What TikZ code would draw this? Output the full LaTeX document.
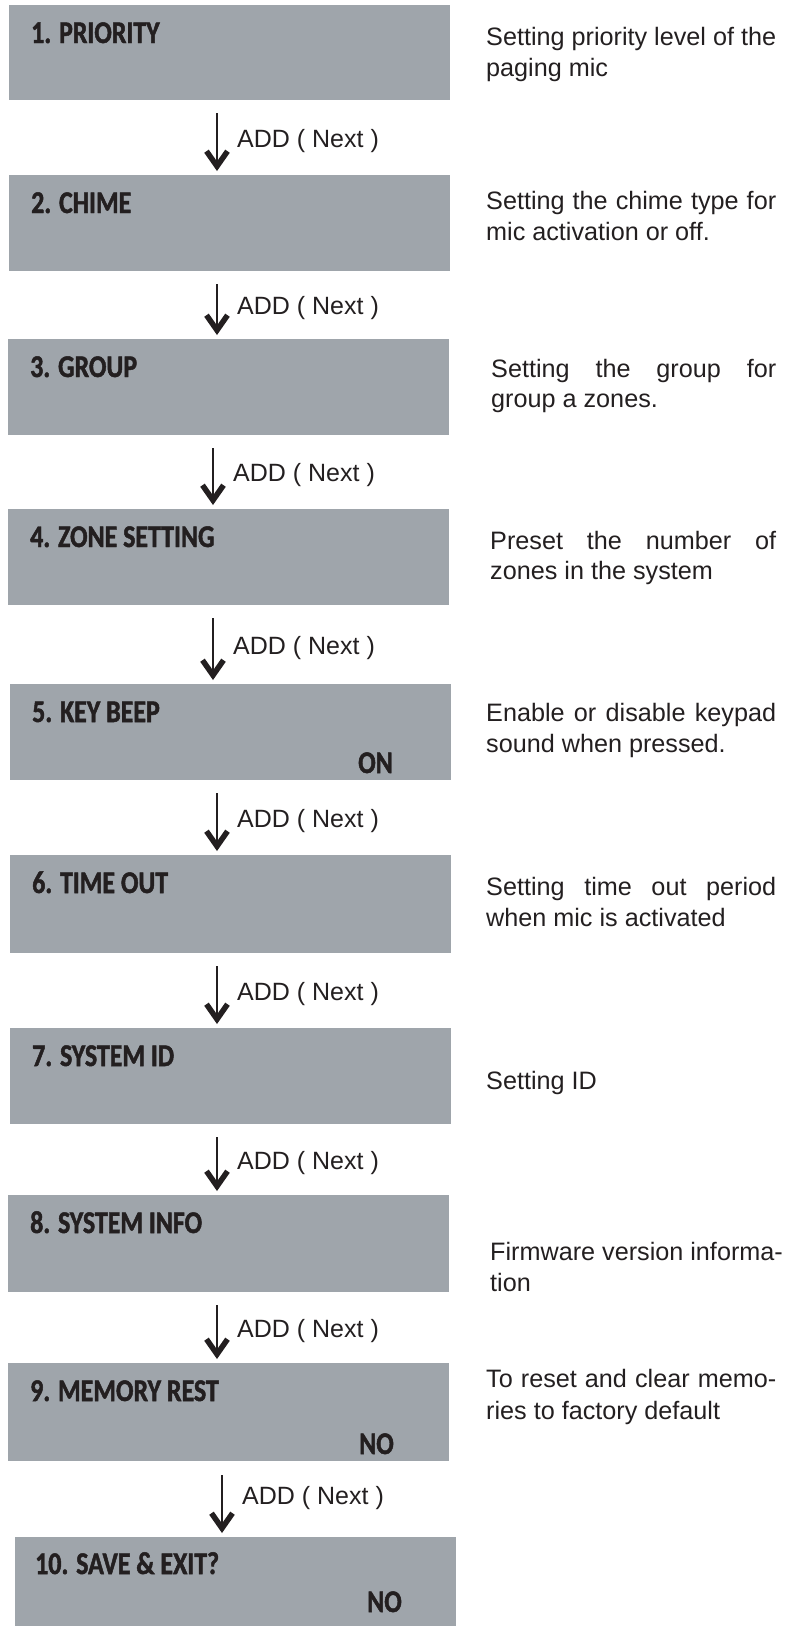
\documentclass[tikz,border=0pt]{standalone}
\usepackage{fontspec}
\usetikzlibrary{arrows.meta}
\newfontfamily\titlefont[FakeStretch=0.82,BoldFeatures={FakeBold=1.5}]{Carlito}
\newfontfamily\descfont{Liberation Sans}
\definecolor{boxgray}{RGB}{159,165,171}
\definecolor{ink}{RGB}{35,31,32}
\newcommand{\jl}[2]{\hbox to #1{#2}}
\tikzset{
  box/.style={fill=boxgray, draw=none, anchor=north west, inner sep=0pt, minimum width=441pt},
  title/.style={anchor=base west, inner sep=0pt, text=ink, font=\titlefont\bfseries\fontsize{31.6}{36}\selectfont},
  value/.style={anchor=base east, inner sep=0pt, text=ink, font=\titlefont\bfseries\fontsize{31.6}{36}\selectfont},
  desc/.style={anchor=base west, inner sep=0pt, text=ink, font=\descfont\fontsize{25.2}{31}\selectfont},
  lbl/.style={anchor=base west, inner sep=0pt, text=ink, font=\descfont\fontsize{25}{30}\selectfont},
  arr/.style={draw=ink, line width=1.4pt, -{Straight Barb[length=15pt,width=21pt,line width=5.5pt]}},
}
\begin{document}
\begin{tikzpicture}[x=1pt,y=-1pt]
\useasboundingbox (0,0) rectangle (786,1626);
% boxes
\node[box, minimum height=95pt] (b1) at (9,5) {};
\node[box, minimum height=96pt] (b2) at (9,175) {};
\node[box, minimum height=96pt] (b3) at (8,339) {};
\node[box, minimum height=96pt] (b4) at (8,509) {};
\node[box, minimum height=96pt] (b5) at (10,684) {};
\node[box, minimum height=98pt] (b6) at (10,855) {};
\node[box, minimum height=96pt] (b7) at (10,1028) {};
\node[box, minimum height=97pt] (b8) at (8,1195) {};
\node[box, minimum height=98pt] (b9) at (8,1363) {};
\node[box, minimum height=89pt] (b10) at (15,1537) {};
% titles
\node[title] (t1) at (31,43) {1. PRIORITY};
\node[title] (t2) at (31,213) {2. CHIME};
\node[title] (t3) at (30,377) {3. GROUP};
\node[title] (t4) at (30,547) {4. ZONE SETTING};
\node[title] (t5) at (32,722) {5. KEY BEEP};
\node[title] (t6) at (32,893) {6. TIME OUT};
\node[title] (t7) at (32,1066) {7. SYSTEM ID};
\node[title] (t8) at (30,1233) {8. SYSTEM INFO};
\node[title] (t9) at (30,1401) {9. MEMORY REST};
\node[title] (t10) at (35,1574) {10. SAVE \& EXIT?};
% values
\node[value] (v5) at (393,773) {ON};
\node[value] (v9) at (394,1454) {NO};
\node[value] (v10) at (402,1612) {NO};
% arrows
\coordinate (s1) at (217,113);  \coordinate (e1) at (217,171);
\coordinate (s2) at (217,284);  \coordinate (e2) at (217,335);
\coordinate (s3) at (213,448);  \coordinate (e3) at (213,505);
\coordinate (s4) at (213,618);  \coordinate (e4) at (213,680);
\coordinate (s5) at (217,793);  \coordinate (e5) at (217,851);
\coordinate (s6) at (217,966);  \coordinate (e6) at (217,1024);
\coordinate (s7) at (217,1137); \coordinate (e7) at (217,1191);
\coordinate (s8) at (217,1305); \coordinate (e8) at (217,1359);
\coordinate (s9) at (222,1475); \coordinate (e9) at (222,1533);
\foreach \i in {1,...,9} {\draw[arr] (s\i) -- (e\i);}
\node[lbl] (l1) at (237,147) {ADD ( Next )};
\node[lbl] (l2) at (237,314.5) {ADD ( Next )};
\node[lbl] (l3) at (233,481.5) {ADD ( Next )};
\node[lbl] (l4) at (233,654) {ADD ( Next )};
\node[lbl] (l5) at (237,827) {ADD ( Next )};
\node[lbl] (l6) at (237,1000) {ADD ( Next )};
\node[lbl] (l7) at (237,1169) {ADD ( Next )};
\node[lbl] (l8) at (237,1337) {ADD ( Next )};
\node[lbl] (l9) at (242,1504) {ADD ( Next )};
% descriptions
\node[desc] (d1a) at (486,45) {Setting priority level of the};
\node[desc] (d1b) at (486,76) {paging mic};
\node[desc] (d2a) at (486,209) {\jl{290pt}{Setting\hfill the\hfill chime\hfill type\hfill for}};
\node[desc] (d2b) at (486,240) {mic activation or off.};
\node[desc] (d3a) at (491,377) {\jl{285pt}{Setting\hfill the\hfill group\hfill for}};
\node[desc] (d3b) at (491,407) {group a zones.};
\node[desc] (d4a) at (490,549) {\jl{286pt}{Preset\hfill the\hfill number\hfill of}};
\node[desc] (d4b) at (490,579) {zones in the system};
\node[desc] (d5a) at (486,721) {\jl{290pt}{Enable\hfill or\hfill disable\hfill keypad}};
\node[desc] (d5b) at (486,752) {sound when pressed.};
\node[desc] (d6a) at (486,895) {\jl{290pt}{Setting\hfill time\hfill out\hfill period}};
\node[desc] (d6b) at (486,926) {when mic is activated};
\node[desc] (d7) at (486,1089) {Setting ID};
\node[desc] (d8a) at (490,1260) {Firmware version informa-};
\node[desc] (d8b) at (490,1291) {tion};
\node[desc] (d9a) at (486,1387) {\jl{290pt}{To\hfill reset\hfill and\hfill clear\hfill memo-}};
\node[desc] (d9b) at (486,1419) {ries to factory default};
\end{tikzpicture}
\end{document}
